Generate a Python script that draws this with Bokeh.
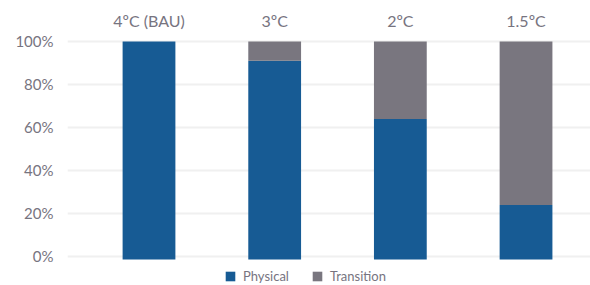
from bokeh.plotting import figure
from bokeh.models import (Range1d, FixedTicker, NumeralTickFormatter, LinearAxis,
                          Legend, LegendItem, ColumnDataSource)
from bokeh.embed import file_html
from bokeh.resources import INLINE

categories = ["4ºC (BAU)", "3ºC", "2ºC", "1.5ºC"]
physical = [1.00, 0.91, 0.64, 0.24]
transition = [0.00, 0.09, 0.36, 0.76]
series = ["Physical", "Transition"]
colors = ["#175B94", "#79767F"]
y_ticks = [0, 0.2, 0.4, 0.6, 0.8, 1.0]

FONT = "Lato"
TXT = "#77747F"
BASE = -0.014  # bars start a hair below the baseline, as in the reference

xs = list(range(len(categories)))
tops = [a + b for a, b in zip(physical, transition)]
src = ColumnDataSource(dict(x=xs, base=[BASE] * len(xs), phys=physical, tot=tops))

p = figure(width=590, height=285, output_backend="svg", toolbar_location=None,
           x_range=Range1d(-0.6485, 3.513), y_range=Range1d(-0.1349, 1.0186),
           min_border_left=67, min_border_right=0, min_border_top=37,
           min_border_bottom=0, x_axis_location=None)
p.outline_line_color = None
p.background_fill_color = "white"
p.border_fill_color = "white"

r1 = p.vbar(x="x", bottom="base", top="phys", width=0.42, source=src,
            color=colors[0], line_color=None)
r2 = p.vbar(x="x", bottom="phys", top="tot", width=0.42, source=src,
            color=colors[1], line_color=None)

# y axis
ya = p.yaxis[0]
ya.ticker = FixedTicker(ticks=y_ticks)
ya.formatter = NumeralTickFormatter(format="0%")
ya.axis_line_color = None
ya.major_tick_line_color = None
ya.minor_tick_line_color = None
ya.major_label_text_font = FONT
ya.major_label_text_font_size = "15px"
ya.major_label_text_color = TXT
ya.major_label_standoff = 8

p.xgrid.visible = False
p.ygrid.ticker = FixedTicker(ticks=y_ticks)
p.ygrid.grid_line_color = "#F0F0F0"
p.ygrid.grid_line_width = 2

# top category axis
top = LinearAxis(ticker=FixedTicker(ticks=xs),
                 major_label_overrides={i: c for i, c in zip(xs, categories)})
top.axis_line_color = None
top.major_tick_line_color = None
top.minor_tick_line_color = None
top.major_label_text_font = FONT
top.major_label_text_font_size = "16px"
top.major_label_text_color = TXT
top.major_label_standoff = 2
p.add_layout(top, "above")

legend = Legend(items=[LegendItem(label=s, renderers=[r]) for s, r in zip(series, [r1, r2])],
                orientation="horizontal", location=(157, 1),
                glyph_width=12, glyph_height=12, label_standoff=7, spacing=22,
                label_text_font=FONT, label_text_font_size="13px",
                label_text_color=TXT, label_height=12, padding=0, margin=0,
                border_line_color=None, background_fill_alpha=0)
p.add_layout(legend, "center")

open("out.html", "w").write(file_html(p, INLINE))
